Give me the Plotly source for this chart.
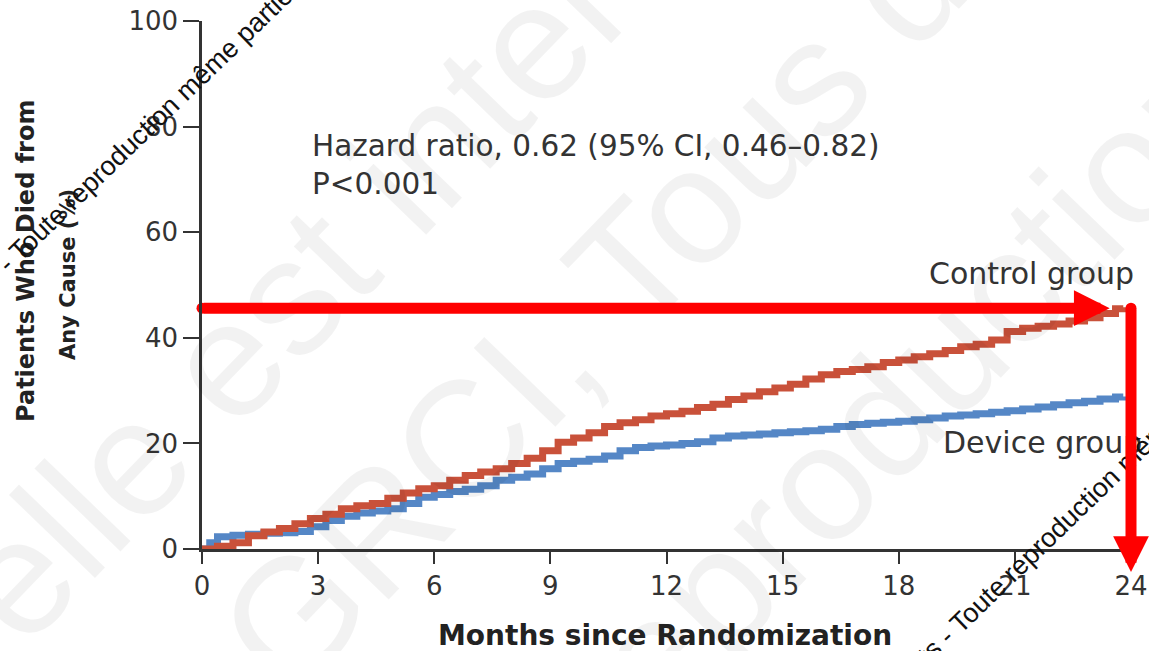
import plotly.graph_objects as go

# ---------------- data ----------------
months_control = [0.0, 0.4, 0.8, 1.2, 1.6, 2.0, 2.4, 2.8, 3.2, 3.6, 4.0, 4.4, 4.8, 5.2, 5.6,
                  6.0, 6.4, 6.8, 7.2, 7.6, 8.0, 8.4, 8.8, 9.2, 9.6, 10.0, 10.4, 10.8, 11.2,
                  11.6, 12.0, 12.4, 12.8, 13.2, 13.6, 14.0, 14.4, 14.8, 15.2, 15.6, 16.0,
                  16.4, 16.8, 17.2, 17.6, 18.0, 18.4, 18.8, 19.2, 19.6, 20.0, 20.4, 20.8,
                  21.2, 21.6, 22.0, 22.4, 22.8, 23.2, 23.6, 23.8]
control_pct = [0.0, 0.5, 1.2, 2.5, 3.2, 3.9, 4.8, 5.8, 6.6, 7.6, 8.2, 8.6, 9.6, 10.6, 11.4,
               12.0, 13.0, 13.9, 14.6, 15.2, 16.2, 17.2, 18.6, 20.2, 21.0, 22.0, 23.2, 23.9,
               24.5, 25.2, 25.6, 26.1, 26.8, 27.4, 28.3, 29.0, 29.8, 30.5, 31.2, 32.2, 33.0,
               33.6, 34.0, 34.5, 35.3, 35.8, 36.4, 37.0, 37.6, 38.3, 38.8, 39.6, 41.2,
               41.8, 42.2, 42.6, 43.2, 43.8, 44.6, 45.5, 45.8]

months_device = [0.0, 0.2, 0.4, 0.8, 1.2, 1.6, 2.0, 2.4, 2.8, 3.2, 3.6, 4.0, 4.4, 4.8, 5.2,
                 5.6, 6.0, 6.4, 6.8, 7.2, 7.6, 8.0, 8.4, 8.8, 9.2, 9.6, 10.0, 10.4, 10.8,
                 11.2, 11.6, 12.0, 12.4, 12.8, 13.2, 13.6, 14.0, 14.4, 14.8, 15.2, 15.6,
                 16.0, 16.4, 16.8, 17.2, 17.6, 18.0, 18.4, 18.8, 19.2, 19.6, 20.0, 20.4,
                 20.8, 21.2, 21.6, 22.0, 22.4, 22.8, 23.2, 23.6, 23.8]
device_pct = [0.0, 1.2, 2.3, 2.6, 2.8, 3.0, 3.1, 3.3, 4.2, 5.4, 6.2, 6.8, 7.2, 7.6, 8.6,
              9.8, 10.3, 10.9, 11.3, 12.0, 13.0, 13.6, 14.2, 15.2, 16.2, 16.6, 17.0, 17.6,
              18.6, 19.2, 19.5, 19.7, 20.0, 20.3, 21.0, 21.4, 21.6, 21.8, 22.0, 22.2, 22.4,
              22.7, 23.2, 23.6, 23.8, 24.0, 24.2, 24.5, 24.8, 25.2, 25.4, 25.6, 25.9,
              26.2, 26.5, 26.9, 27.3, 27.7, 28.0, 28.4, 28.8, 28.9]

x_ticks = [0, 3, 6, 9, 12, 15, 18, 21, 24]
y_ticks = [0, 20, 40, 60, 80, 100]

arrow_level = 45.6      # horizontal red arrow level (%)
arrow_head_month = 23.45
arrow_month = 24

hazard_text = "Hazard ratio, 0.62 (95% CI, 0.46–0.82)<br>P&lt;0.001"
x_title = "Months since Randomization"
y_title_1 = "Patients Who Died from"
y_title_2 = "Any Cause (%)"

# ---------------- layout geometry ----------------
W, H = 1149, 651
ML, MR, MT, MB = 202, 18, 21, 102
PW, PH = W - ML - MR, H - MT - MB


def px_x(px):
    return (px - ML) / PW


def px_y(py):
    return (H - MB - py) / PH


RED_LINE = "#c9513a"
BLUE_LINE = "#5587c6"
TXT = "#333333"
REG = "DejaVu Sans"
BOLD = "DejaVu Sans"

fig = go.Figure()

fig.add_trace(go.Scatter(x=months_device, y=device_pct, mode="lines",
                         line=dict(color=BLUE_LINE, width=7, shape="hv"),
                         showlegend=False, hoverinfo="skip"))
fig.add_trace(go.Scatter(x=months_control, y=control_pct, mode="lines",
                         line=dict(color=RED_LINE, width=7, shape="hv"),
                         showlegend=False, hoverinfo="skip"))
# round caps of the red arrows
fig.add_trace(go.Scatter(x=[0, arrow_month], y=[arrow_level, arrow_level], mode="markers",
                         marker=dict(color="#ff0000", size=11), cliponaxis=False,
                         showlegend=False, hoverinfo="skip"))

annotations = []

# big light watermark
wm_font = dict(family="Liberation Sans, Arial", size=165, color="rgba(0,0,0,0.05)")
for txt, cx, cy in [("elle est interdite.", 400, 180),
                    ("GRCI, Tous droits", 700, 195),
                    ("reproduction", 900, 400)]:
    annotations.append(dict(text=txt, x=px_x(cx), y=px_y(cy), xref="paper", yref="paper",
                            showarrow=False, textangle=-46, font=wm_font,
                            xanchor="center", yanchor="middle"))

# texts
annotations.append(dict(text=hazard_text, x=2.78, y=72.7, xref="x", yref="y",
                        xanchor="left", yanchor="middle", align="left", showarrow=False,
                        font=dict(family=REG, size=29.5, color=TXT)))
annotations.append(dict(text="Control group", x=24, y=52.2, xref="x", yref="y",
                        xanchor="right", yanchor="middle", xshift=5, showarrow=False,
                        font=dict(family=REG, size=30, color=TXT)))
annotations.append(dict(text="Device group", x=19.1, y=20.25, xref="x", yref="y",
                        xanchor="left", yanchor="middle", showarrow=False,
                        font=dict(family=REG, size=30, color=TXT)))
annotations.append(dict(text="<b>" + x_title + "</b>", x=px_x(665), y=px_y(635),
                        xref="paper", yref="paper", xanchor="center", yanchor="middle",
                        showarrow=False, font=dict(family=BOLD, size=28, color="#222222")))
annotations.append(dict(text="<b>" + y_title_1 + "</b>", x=px_x(26), y=px_y(261),
                        xref="paper", yref="paper", xanchor="center", yanchor="middle",
                        textangle=-90, showarrow=False,
                        font=dict(family=BOLD, size=24, color="#222222")))
annotations.append(dict(text="<b>" + y_title_2 + "</b>", x=px_x(68), y=px_y(275),
                        xref="paper", yref="paper", xanchor="center", yanchor="middle",
                        textangle=-90, showarrow=False,
                        font=dict(family=BOLD, size=21, color="#222222")))

# small black watermark
sm_font = dict(family="Liberation Sans, Arial", size=27, color="#111111")
annotations.append(dict(text="- Toute reproduction même partielle", x=px_x(155), y=px_y(120),
                        xref="paper", yref="paper", showarrow=False, textangle=-44,
                        font=sm_font, xanchor="center", yanchor="middle"))
annotations.append(dict(text="ts - Toute reproduction même partielle", x=px_x(1085), y=px_y(502),
                        xref="paper", yref="paper", showarrow=False, textangle=-44,
                        font=sm_font, xanchor="center", yanchor="middle"))

# red arrows
annotations.append(dict(text="", x=arrow_head_month, y=arrow_level, xref="x", yref="y",
                        ax=0, ay=arrow_level, axref="x", ayref="y", showarrow=True,
                        arrowhead=2, arrowsize=0.65, arrowwidth=11, arrowcolor="#ff0000",
                        standoff=0))
annotations.append(dict(text="", x=arrow_month, y=px_y(572), xref="x", yref="paper",
                        ax=0, ay=-(572 - 308), axref="pixel", ayref="pixel", showarrow=True,
                        arrowhead=2, arrowsize=0.65, arrowwidth=11, arrowcolor="#ff0000",
                        standoff=0))

axis_common = dict(showgrid=False, zeroline=False, showline=True, linecolor="#333333",
                   linewidth=2.5, ticks="outside", tickcolor="#333333", tickwidth=2,
                   automargin=False,
                   tickfont=dict(family=REG, size=26, color=TXT))

fig.update_layout(
    width=W, height=H, margin=dict(l=ML, r=MR, t=MT, b=MB, autoexpand=False),
    paper_bgcolor="white", plot_bgcolor="white",
    xaxis=dict(range=[0, 24], tickvals=x_ticks, ticklen=12, **axis_common),
    yaxis=dict(range=[0, 100], tickvals=y_ticks, ticklen=16, **axis_common),
    annotations=annotations,
)

fig.write_html("out.html")
